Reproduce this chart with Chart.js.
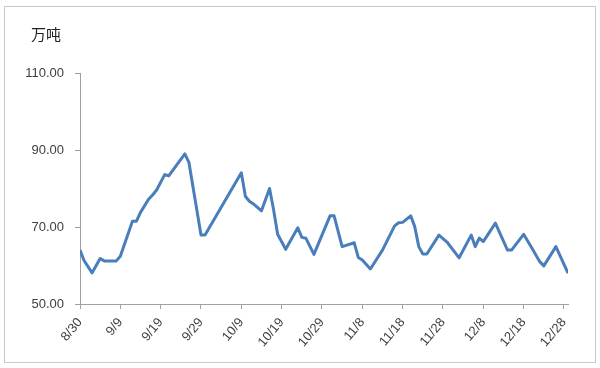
<!DOCTYPE html>
<html>
<head>
<meta charset="utf-8">
<script src="https://cdn.jsdelivr.net/npm/chart.js@4/dist/chart.umd.min.js"></script>
<style>
  html,body{margin:0;padding:0;background:#fff;}
  #wrap{position:relative;width:600px;height:368px;}
  #frame{position:absolute;left:4px;top:6px;width:590px;height:355px;border:1px solid #c9c9c9;pointer-events:none;}
</style>
</head>
<body>
<div id="wrap">
  <canvas id="c" width="600" height="368"></canvas>
  <div id="frame"></div>
</div>
<script>
// dates of the points (month/day) and stock values in 万吨
const dates = ['8/30','8/31','9/2','9/4','9/5','9/8','9/9','9/12','9/13','9/14','9/16','9/17','9/18','9/20','9/21','9/25','9/26','9/29','9/30',
  '10/9','10/10','10/11','10/12','10/14','10/16','10/17','10/18','10/20','10/23','10/24','10/25','10/27','10/31',
  '11/1','11/3','11/6','11/7','11/8','11/10','11/13','11/16','11/17','11/18','11/20','11/21','11/22','11/23','11/24','11/27','11/29',
  '12/2','12/5','12/6','12/7','12/8','12/11','12/14','12/15','12/18','12/20','12/22','12/23','12/26','12/29'];
const values = [64.0,61.3,58.1,61.8,61.2,61.2,62.4,71.5,71.5,73.8,77.2,78.3,79.6,83.6,83.3,89.0,86.8,67.9,67.9,
  84.1,78.0,76.7,76.0,74.2,80.0,74.5,68.1,64.2,69.8,67.3,67.1,62.9,72.9,
  72.9,64.9,65.9,62.1,61.4,59.1,64.0,70.3,71.1,71.2,72.9,70.1,64.9,63.0,63.0,67.9,66.1,
  62.0,67.9,64.9,67.1,66.2,71.0,64.0,64.0,68.1,64.6,61.0,59.9,64.9,58.0];
const tickLabels = ['8/30','9/9','9/19','9/29','10/9','10/19','10/29','11/8','11/18','11/28','12/8','12/18','12/28'];
const yTicks = [50,70,90,110];
const unitLabel = '万吨';

function dayOf(s){
  const [m,d] = s.split('/').map(Number);
  return (Date.UTC(2014,m-1,d) - Date.UTC(2014,7,30)) / 86400000;
}
const pts = dates.map((s,i)=>({x:dayOf(s), y:values[i]}));

const axisColor = '#a0a0a0';
const txt = '#404040';

const unitPlugin = {
  id:'unit',
  afterDraw(chart){
    const ctx = chart.ctx;
    ctx.save();
    ctx.fillStyle = '#222';
    ctx.font = '15px "Noto Sans CJK SC"';
    ctx.textBaseline = 'middle';
    ctx.fillText(unitLabel, 31, 34);
    ctx.restore();
  }
};

new Chart(document.getElementById('c'), {
  type:'line',
  data:{datasets:[{data:pts,borderColor:'#4a7ebb',borderWidth:3,pointRadius:0,tension:0,fill:false,borderJoinStyle:'round'}]},
  options:{
    responsive:false,animation:false,
    layout:{padding:{top:73,right:32,bottom:0,left:0}},
    plugins:{legend:{display:false},tooltip:{enabled:false}},
    scales:{
      x:{type:'linear',min:0,max:121,
        afterBuildTicks(s){ s.ticks = tickLabels.map((_,i)=>({value:i*10})); },
        afterFit(s){ s.height = 64; },
        grid:{drawOnChartArea:false,tickLength:5,color:axisColor},
        border:{color:axisColor},
        ticks:{autoSkip:false,minRotation:50,maxRotation:50,padding:6,color:txt,
          font:{family:'"Liberation Sans", Arial',size:13},
          callback:(v)=>tickLabels[v/10] ?? ''}
      },
      y:{min:50,max:110,
        afterBuildTicks(s){ s.ticks = yTicks.map(v=>({value:v})); },
        afterFit(s){ s.width = 80; },
        grid:{drawOnChartArea:false,tickLength:5,color:axisColor},
        border:{color:axisColor},
        ticks:{padding:11,color:txt,font:{family:'"Liberation Sans", Arial',size:13},
          callback:(v)=>v.toFixed(2)}
      }
    }
  },
  plugins:[unitPlugin]
});
</script>
</body>
</html>
